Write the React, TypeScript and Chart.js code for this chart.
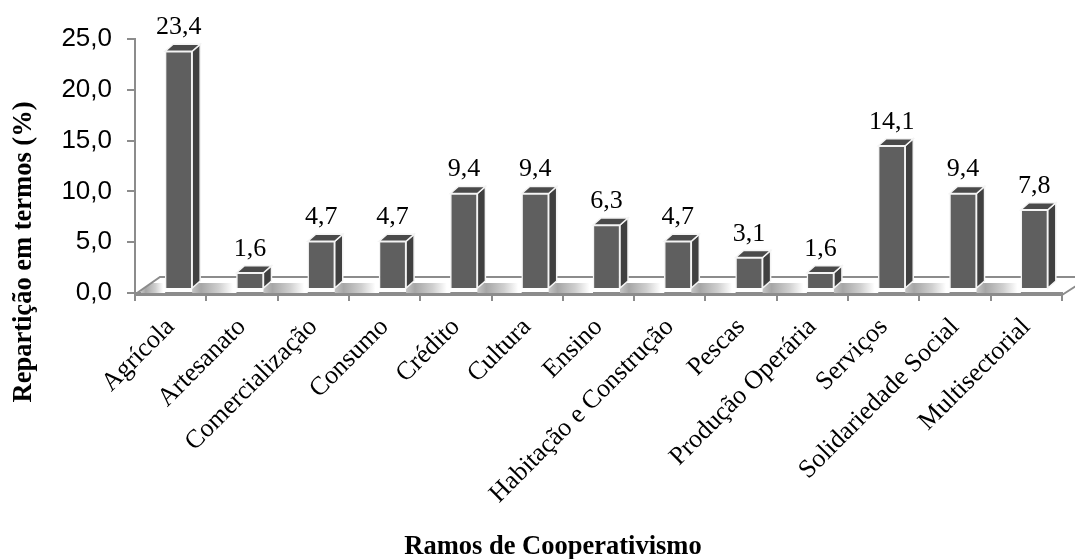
import React, { useEffect, useRef } from "react";
import { Chart, registerables } from "chart.js";

Chart.register(...registerables);

const categories = ["Agrícola", "Artesanato", "Comercialização", "Consumo", "Crédito", "Cultura", "Ensino", "Habitação e Construção", "Pescas", "Produção Operária", "Serviços", "Solidariedade Social", "Multisectorial"];
const values = [23.4, 1.6, 4.7, 4.7, 9.4, 9.4, 6.3, 4.7, 3.1, 1.6, 14.1, 9.4, 7.8];
const xTitle = "Ramos de Cooperativismo";
const yTitle = "Repartição em termos (%)";

const DX = 8, DY = -4, SIDE_X = 8, SIDE_Y = 7, FLOOR_X = 25, FLOOR_Y = 16;
const AXIS = "#8c8c8c";

const floorPlugin = {
  id: "floor",
  beforeDatasetsDraw(chart: any) {
    const { ctx, chartArea: a } = chart;
    const meta = chart.getDatasetMeta(0);
    ctx.save();
    ctx.beginPath();
    ctx.moveTo(a.left + 2, a.bottom);
    ctx.lineTo(a.right, a.bottom);
    ctx.lineTo(a.right + FLOOR_X, a.bottom - FLOOR_Y);
    ctx.lineTo(a.left + FLOOR_X, a.bottom - FLOOR_Y);
    ctx.closePath();
    ctx.clip();
    const shade = (from: number, to: number) => {
      const g = ctx.createLinearGradient(from, 0, to, 0);
      g.addColorStop(0, "#c4c4c4");
      g.addColorStop(0.2, "#a6a6a6");
      g.addColorStop(0.6, "#cfcfcf");
      g.addColorStop(0.92, "#ffffff");
      g.addColorStop(1, "#ffffff");
      ctx.fillStyle = g;
      ctx.fillRect(from, a.bottom - 10, to - from, 10);
    };
    const bars = meta.data;
    shade(a.left + 6, bars[0].x - bars[0].width / 2 + DX);
    for (let i = 0; i + 1 < bars.length; i++) {
      shade(bars[i].x + bars[i].width / 2 + DX, bars[i + 1].x - bars[i + 1].width / 2 + DX);
    }
    ctx.restore();

    ctx.save();
    ctx.strokeStyle = AXIS;
    ctx.lineWidth = 2;
    ctx.beginPath();
    ctx.moveTo(a.left + 2, a.bottom);
    ctx.lineTo(a.left + FLOOR_X, a.bottom - FLOOR_Y);
    ctx.lineTo(chart.width, a.bottom - FLOOR_Y);
    ctx.moveTo(a.right, a.bottom + 2);
    ctx.lineTo(a.right + FLOOR_X, a.bottom + 2 - FLOOR_Y);
    ctx.stroke();
    ctx.lineWidth = 3;
    ctx.beginPath();
    ctx.moveTo(a.left, a.bottom + 1.5);
    ctx.lineTo(a.right, a.bottom + 1.5);
    ctx.stroke();
    ctx.restore();

    // side and top faces of each bar, taken from the library's bar elements
    ctx.save();
    ctx.translate(DX, DY);
    meta.data.forEach((bar: any) => {
      const l = bar.x - bar.width / 2, r = bar.x + bar.width / 2, t = bar.y, b = bar.base;
      ctx.lineWidth = 1.5;
      ctx.strokeStyle = "#f4f4f4";
      ctx.fillStyle = "#404040";
      ctx.beginPath();
      ctx.moveTo(r, t);
      ctx.lineTo(r + SIDE_X, t - SIDE_Y);
      ctx.lineTo(r + SIDE_X, b - SIDE_Y);
      ctx.lineTo(r, b);
      ctx.closePath();
      ctx.fill();
      ctx.stroke();
      ctx.fillStyle = "#4a4a4a";
      ctx.beginPath();
      ctx.moveTo(l, t);
      ctx.lineTo(l + SIDE_X, t - SIDE_Y);
      ctx.lineTo(r + SIDE_X, t - SIDE_Y);
      ctx.lineTo(r, t);
      ctx.closePath();
      ctx.fill();
      ctx.stroke();
    });
    ctx.restore();
    // shift the library's bars for the following draw
    ctx.save();
    ctx.translate(DX, DY);
  },
  afterDatasetsDraw(chart: any) {
    const { ctx } = chart;
    ctx.restore();
    const meta = chart.getDatasetMeta(0);
    ctx.save();
    ctx.fillStyle = "#000";
    ctx.font = '26px "Liberation Serif"';
    ctx.textAlign = "center";
    ctx.textBaseline = "alphabetic";
    meta.data.forEach((bar: any, i: number) => {
      ctx.fillText(values[i].toFixed(1).replace(".", ","), bar.x + DX, bar.y + DY - 17);
    });
    ctx.font = 'bold 26.5px "Liberation Serif"';
    ctx.textBaseline = "middle";
    ctx.fillText(xTitle, 553, 547);
    ctx.translate(24, 252);
    ctx.rotate(-Math.PI / 2);
    ctx.fillText(yTitle, 0, 0);
    ctx.restore();
  },
};

export default function App() {
  const ref = useRef<HTMLCanvasElement>(null);
  useEffect(() => {
    const chart = new Chart(ref.current!, {
      type: "bar",
      data: {
        labels: categories,
        datasets: [{
          data: values,
          backgroundColor: "#5f5f5f",
          borderColor: "#f4f4f4",
          borderWidth: 1.5,
          barThickness: 27,
        }],
      },
      plugins: [floorPlugin],
      options: {
        responsive: false,
        animation: false,
        layout: { padding: { top: 39, right: 13, bottom: 4, left: 0 } },
        plugins: { legend: { display: false }, tooltip: { enabled: false } },
        scales: {
          x: {
            afterFit: (s: any) => { s.height = 262; },
            grid: { drawOnChartArea: false, color: AXIS, lineWidth: 2, tickLength: 8 },
            border: { color: AXIS, width: 2 },
            ticks: {
              color: "#000",
              font: { family: "Liberation Serif", size: 26 },
              minRotation: 45,
              maxRotation: 45,
              autoSkip: false,
              padding: 11,
            },
          },
          y: {
            min: 0,
            max: 25,
            afterFit: (s: any) => { s.width = 135; },
            grid: { drawOnChartArea: false, color: AXIS, lineWidth: 2, tickLength: 8 },
            border: { color: AXIS, width: 2 },
            ticks: {
              stepSize: 5,
              color: "#000",
              font: { family: "Liberation Sans", size: 26 },
              padding: 15,
              callback: (v: any) => Number(v).toFixed(1).replace(".", ","),
            },
          },
        },
      },
    });
    return () => chart.destroy();
  }, []);
  return (
    <canvas
      ref={ref}
      width={1075}
      height={559}
      style={{ position: "absolute", left: 0, top: 0, width: 1075, height: 559 }}
    />
  );
}
